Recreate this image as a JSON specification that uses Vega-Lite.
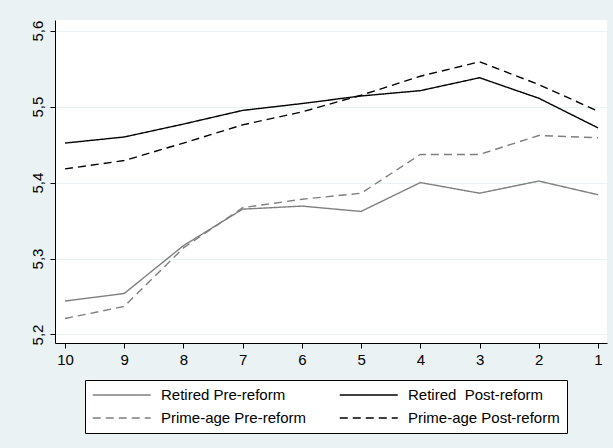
{
  "$schema": "https://vega.github.io/schema/vega-lite/v6.json",
  "width": 552,
  "height": 323,
  "autosize": {"type": "none"},
  "padding": {"left": 55, "top": 20, "right": 6, "bottom": 105},
  "background": "#EAF2F3",
  "config": {
    "view": {"fill": "white", "stroke": null},
    "font": "Liberation Sans",
    "axis": {
      "domainColor": "black",
      "domainWidth": 1,
      "tickColor": "black",
      "tickWidth": 1,
      "tickSize": 5,
      "labelColor": "black",
      "labelFont": "Liberation Sans",
      "labelFontSize": 15,
      "gridColor": "#EAF2F3",
      "gridWidth": 1.2
    },
    "legend": {
      "labelFont": "Liberation Sans",
      "labelFontSize": 15,
      "labelColor": "black"
    }
  },
  "data": {
    "values": [
      {"x": 10, "y": 5.244, "series": "Retired Pre-reform"},
      {"x": 9, "y": 5.254, "series": "Retired Pre-reform"},
      {"x": 8, "y": 5.317, "series": "Retired Pre-reform"},
      {"x": 7, "y": 5.365, "series": "Retired Pre-reform"},
      {"x": 6, "y": 5.369, "series": "Retired Pre-reform"},
      {"x": 5, "y": 5.362, "series": "Retired Pre-reform"},
      {"x": 4, "y": 5.400, "series": "Retired Pre-reform"},
      {"x": 3, "y": 5.386, "series": "Retired Pre-reform"},
      {"x": 2, "y": 5.402, "series": "Retired Pre-reform"},
      {"x": 1, "y": 5.384, "series": "Retired Pre-reform"},
      {"x": 10, "y": 5.452, "series": "Retired\u00a0 Post-reform"},
      {"x": 9, "y": 5.460, "series": "Retired\u00a0 Post-reform"},
      {"x": 8, "y": 5.477, "series": "Retired\u00a0 Post-reform"},
      {"x": 7, "y": 5.495, "series": "Retired\u00a0 Post-reform"},
      {"x": 6, "y": 5.504, "series": "Retired\u00a0 Post-reform"},
      {"x": 5, "y": 5.514, "series": "Retired\u00a0 Post-reform"},
      {"x": 4, "y": 5.521, "series": "Retired\u00a0 Post-reform"},
      {"x": 3, "y": 5.538, "series": "Retired\u00a0 Post-reform"},
      {"x": 2, "y": 5.511, "series": "Retired\u00a0 Post-reform"},
      {"x": 1, "y": 5.472, "series": "Retired\u00a0 Post-reform"},
      {"x": 10, "y": 5.221, "series": "Prime-age Pre-reform"},
      {"x": 9, "y": 5.237, "series": "Prime-age Pre-reform"},
      {"x": 8, "y": 5.314, "series": "Prime-age Pre-reform"},
      {"x": 7, "y": 5.367, "series": "Prime-age Pre-reform"},
      {"x": 6, "y": 5.378, "series": "Prime-age Pre-reform"},
      {"x": 5, "y": 5.386, "series": "Prime-age Pre-reform"},
      {"x": 4, "y": 5.437, "series": "Prime-age Pre-reform"},
      {"x": 3, "y": 5.437, "series": "Prime-age Pre-reform"},
      {"x": 2, "y": 5.462, "series": "Prime-age Pre-reform"},
      {"x": 1, "y": 5.459, "series": "Prime-age Pre-reform"},
      {"x": 10, "y": 5.418, "series": "Prime-age Post-reform"},
      {"x": 9, "y": 5.429, "series": "Prime-age Post-reform"},
      {"x": 8, "y": 5.452, "series": "Prime-age Post-reform"},
      {"x": 7, "y": 5.476, "series": "Prime-age Post-reform"},
      {"x": 6, "y": 5.493, "series": "Prime-age Post-reform"},
      {"x": 5, "y": 5.515, "series": "Prime-age Post-reform"},
      {"x": 4, "y": 5.540, "series": "Prime-age Post-reform"},
      {"x": 3, "y": 5.559, "series": "Prime-age Post-reform"},
      {"x": 2, "y": 5.529, "series": "Prime-age Post-reform"},
      {"x": 1, "y": 5.494, "series": "Prime-age Post-reform"}
    ]
  },
  "mark": {"type": "line", "strokeWidth": 1.4, "clip": true},
  "encoding": {
    "x": {
      "field": "x",
      "type": "quantitative",
      "scale": {"domain": [10.169, 0.848], "nice": false, "zero": false},
      "axis": {
        "title": null,
        "values": [10, 9, 8, 7, 6, 5, 4, 3, 2, 1],
        "format": "d",
        "grid": false,
        "labelPadding": 4
      }
    },
    "y": {
      "field": "y",
      "type": "quantitative",
      "scale": {"domain": [5.1888, 5.614], "nice": false, "zero": false},
      "axis": {
        "title": null,
        "values": [5.2, 5.3, 5.4, 5.5, 5.6],
        "labelExpr": "replace(format(datum.value, '.1f'), '.', ',')",
        "labelAngle": -90,
        "labelAlign": "center",
        "labelBaseline": "bottom",
        "labelPadding": 5,
        "grid": true
      }
    },
    "color": {
      "field": "series",
      "type": "nominal",
      "scale": {
        "domain": ["Retired Pre-reform", "Prime-age Pre-reform", "Retired\u00a0 Post-reform", "Prime-age Post-reform"],
        "range": ["#7f7f7f", "#7f7f7f", "#000000", "#000000"]
      },
      "legend": {
        "title": null,
        "orient": "none",
        "legendX": 30,
        "legendY": 360,
        "columns": 2,
        "columnPadding": 29,
        "rowPadding": 7,
        "padding": 7,
        "strokeColor": "black",
        "fillColor": "white",
        "symbolType": "M-1,0H7",
        "symbolSize": 210,
        "symbolStrokeWidth": 1.4,
        "labelOffset": 53
      }
    },
    "strokeDash": {
      "field": "series",
      "type": "nominal",
      "scale": {
        "domain": ["Retired Pre-reform", "Prime-age Pre-reform", "Retired\u00a0 Post-reform", "Prime-age Post-reform"],
        "range": [[1, 0], [8, 5], [1, 0], [8, 5]]
      },
      "legend": {
        "title": null,
        "orient": "none",
        "legendX": 30,
        "legendY": 360,
        "columns": 2,
        "columnPadding": 29,
        "rowPadding": 7,
        "padding": 7,
        "strokeColor": "black",
        "fillColor": "white",
        "symbolType": "M-1,0H7",
        "symbolSize": 210,
        "symbolStrokeWidth": 1.4,
        "labelOffset": 53
      }
    }
  }
}
